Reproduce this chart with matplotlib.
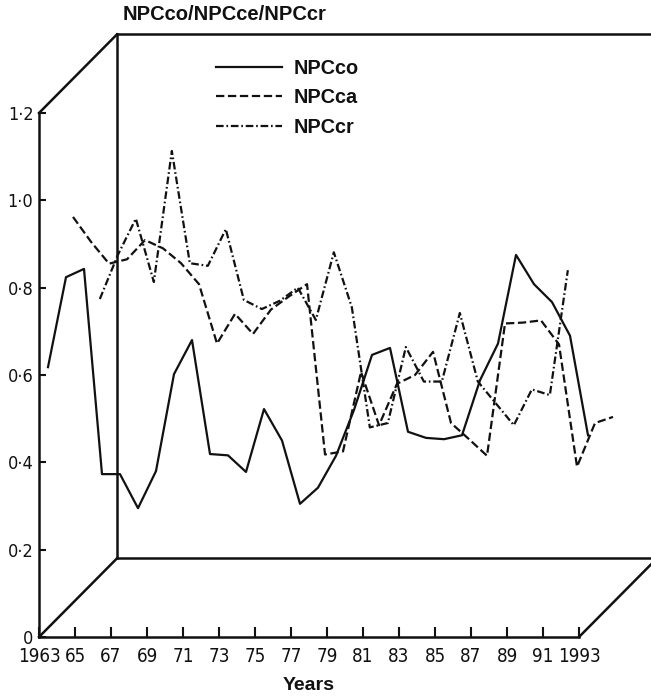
import matplotlib
matplotlib.use('Agg')
import matplotlib.pyplot as plt

plt.rcParams['lines.scale_dashes'] = False

# ---------------- data ----------------
years_co = list(range(1963, 1994))
npcco = [0.618, 0.824, 0.843, 0.373, 0.373, 0.295, 0.38, 0.602, 0.68, 0.419,
         0.416, 0.378, 0.522, 0.45, 0.305, 0.342, 0.415, 0.52, 0.646, 0.662,
         0.47, 0.456, 0.453, 0.462, 0.588, 0.672, 0.875, 0.808, 0.767, 0.69,
         0.462]

years_ca = list(range(1965, 1996))
npcca = [0.962, 0.905, 0.855, 0.865, 0.909, 0.89, 0.856, 0.808, 0.672, 0.74,
         0.694, 0.75, 0.78, 0.808, 0.418, 0.425, 0.607, 0.485, 0.58, 0.60,
         0.653, 0.49, 0.453, 0.415, 0.718, 0.72, 0.725, 0.67, 0.39, 0.49,
         0.504]

years_cr = list(range(1966, 1993))
npccr = [0.774, 0.875, 0.958, 0.813, 1.113, 0.856, 0.85, 0.934, 0.772, 0.751,
         0.77, 0.80, 0.726, 0.881, 0.755, 0.48, 0.49, 0.664, 0.585, 0.585,
         0.742, 0.585, 0.535, 0.485, 0.567, 0.554, 0.84]

series_names = ['NPCco', 'NPCca', 'NPCcr']
y_ticks = [0, 0.2, 0.4, 0.6, 0.8, 1.0, 1.2]
y_ticklabels = ['0', '0·2', '0·4', '0·6', '0·8', '1·0', '1·2']
x_ticks = list(range(1963, 1994, 2))
x_ticklabels = ['1963', '65', '67', '69', '71', '73', '75', '77', '79', '81',
                '83', '85', '87', '89', '91', '1993']
title_text = 'NPCco/NPCce/NPCcr'
xlabel_text = 'Years'

# ---------------- style ----------------
INK = '#111111'
SHIFT = {'NPCco': 0.5, 'NPCca': -0.11, 'NPCcr': 0.38}
DASH = {'NPCco': '-', 'NPCca': (0, (6.0, 2.6)), 'NPCcr': (0, (5.5, 2.0, 1.2, 2.0))}
DX, DY = 4.33, 0.18       # depth offset of the pseudo-3D box
LW = 1.6
FRAME_LW = 1.8
TEXT_FONT = ['Liberation Sans', 'DejaVu Sans']
NUM_FONT = ['Liberation Sans Narrow', 'DejaVu Sans Condensed', 'DejaVu Sans']

W, H = 651, 696
fig = plt.figure(figsize=(W / 100, H / 100), dpi=100)
ax = fig.add_axes([39 / W, 59 / H, 540 / W, 524 / H])
ax.set_xlim(1963, 1993)
ax.set_ylim(0, 1.2)

for s in ['top', 'right']:
    ax.spines[s].set_visible(False)
for s in ['left', 'bottom']:
    ax.spines[s].set_linewidth(FRAME_LW)
    ax.spines[s].set_color(INK)

# pseudo-3D frame
frame_kw = dict(color=INK, lw=FRAME_LW, clip_on=False, solid_capstyle='projecting')
ax.plot([1963, 1963 + DX], [1.2, 1.2 + DY], **frame_kw)
ax.plot([1963, 1963 + DX], [0, DY], **frame_kw)
ax.plot([1993, 1993 + DX], [0, DY], **frame_kw)
ax.plot([1963 + DX, 1963 + DX], [DY, 1.2 + DY], **frame_kw)
ax.plot([1963 + DX, 1993 + DX], [1.2 + DY, 1.2 + DY], **frame_kw)
ax.plot([1963 + DX, 1993 + DX], [DY, DY], **frame_kw)

# series
handles = []
for name, yrs, vals in [('NPCco', years_co, npcco),
                        ('NPCca', years_ca, npcca),
                        ('NPCcr', years_cr, npccr)]:
    xs = [y + SHIFT[name] for y in yrs]
    ln, = ax.plot(xs, vals, color=INK, lw=LW, linestyle=DASH[name],
                  clip_on=False, label=name)
    handles.append(ln)

# ticks
ax.set_yticks(y_ticks)
ax.set_yticklabels(y_ticklabels, family=NUM_FONT, fontstretch='condensed', fontsize=13)
ax.set_xticks(x_ticks)
ax.set_xticklabels(x_ticklabels, family=NUM_FONT, fontstretch='condensed', fontsize=13.5)
ax.tick_params(axis='y', direction='in', length=5, width=1.5, pad=4, colors=INK)
ax.tick_params(axis='x', direction='in', length=7, width=1.5, pad=7, colors=INK)
first = ax.get_xticklabels()[0]
first.set_horizontalalignment('center')

ax.set_xlabel(xlabel_text, family=TEXT_FONT, fontsize=14, fontweight='bold',
              color=INK, labelpad=8)
fig.text(123 / W, 1 - 14 / H, title_text, family=TEXT_FONT, fontsize=14.5,
         fontweight='bold', color=INK, ha='left', va='center')

leg = ax.legend(handles, series_names, loc='upper left',
                bbox_to_anchor=(216 / W, 1 - 59 / H), bbox_transform=fig.transFigure,
                frameon=False, borderpad=0, borderaxespad=0, handlelength=3.3,
                handletextpad=0.62, labelspacing=0.52,
                prop={'family': TEXT_FONT, 'size': 14.3, 'weight': 'bold'})
for t in leg.get_texts():
    t.set_color(INK)

fig.savefig('out.png', dpi=100)
